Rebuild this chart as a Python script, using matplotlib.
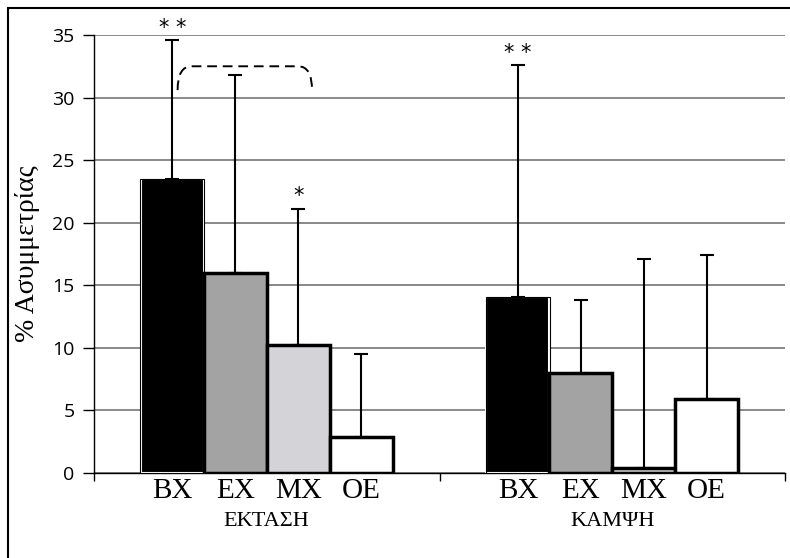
import numpy as np
import matplotlib.pyplot as plt
from matplotlib.patches import Rectangle, PathPatch
from matplotlib.path import Path

# Δεδομένα
omades = ['ΕΚΤΑΣΗ', 'ΚΑΜΨΗ']
katigories = ['BX', 'EX', 'MX', 'OE']
times = {
    'BX': [23.5, 14.1],
    'EX': [16.0, 8.0],
    'MX': [10.2, 0.4],
    'OE': [2.9, 5.9],
}
sfalmata = {
    'BX': [11.1, 18.5],
    'EX': [15.8, 5.8],
    'MX': [10.9, 16.7],
    'OE': [6.6, 11.5],
}
asteriskoi = [('* *', 'BX', 0), ('*', 'MX', 0), ('* *', 'BX', 1)]

xromata = {'BX': 'black', 'EX': '#a3a3a3', 'MX': '#d4d4d8', 'OE': 'white'}

fig = plt.figure(figsize=(7.9, 5.58), dpi=100)
ax = fig.add_axes([94 / 790, 1 - 473 / 558, (785 - 94) / 790, (473 - 35) / 558])

x = np.arange(len(omades))
platos = 0.182
metatopisi = (np.arange(len(katigories)) - 1.5) * platos

for i, k in enumerate(katigories):
    xi = x + metatopisi[i]
    if k == 'BX':
        ax.bar(xi, times[k], platos, color='black', edgecolor='white', linewidth=1.5, zorder=3)
        ax.bar(xi, times[k], platos * 1.02, fill=False, edgecolor='black', linewidth=0.8, zorder=3)
    else:
        ax.bar(xi, times[k], platos, color=xromata[k], edgecolor='black', linewidth=2.5, zorder=3)
    ax.errorbar(xi, times[k], yerr=[np.zeros(len(omades)), sfalmata[k]], fmt='none',
                ecolor='black', elinewidth=1.5, capsize=5, capthick=1.5, zorder=4)
    for j, xv in enumerate(xi):
        ax.text(xv, -0.4, k, ha='center', va='top', fontsize=21,
                family='Liberation Serif')

for j, o in enumerate(omades):
    ax.text(x[j], -3.15, o, ha='center', va='top', fontsize=16, family='Liberation Serif')

# αστερίσκοι σημαντικότητας
for s, k, j in asteriskoi:
    i = katigories.index(k)
    ax.text(x[j] + metatopisi[i], times[k][j] + sfalmata[k][j] + 0.2, s,
            ha='center', va='bottom', fontsize=15, family='DejaVu Sans')

# διακεκομμένη αγκύλη
x0 = x[0] + metatopisi[0] + 0.015
x1 = x[0] + metatopisi[2] + 0.04
y0, y1 = 30.6, 32.5
verts = [(x0, y0), (x0, y1), (x0 + 0.04, y1), (x1 - 0.04, y1), (x1, y1), (x1, y0)]
codes = [Path.MOVETO, Path.CURVE3, Path.CURVE3, Path.LINETO, Path.CURVE3, Path.CURVE3]
ax.add_patch(PathPatch(Path(verts, codes), fill=False, linestyle=(0, (5, 3)),
                       linewidth=1.4, edgecolor='black', zorder=5))

ax.set_xlim(-0.5, 1.5)
ax.set_ylim(0, 35)
ax.set_yticks(np.arange(0, 36, 5))
ax.set_xticks([-0.5, 0.5, 1.5])
ax.set_xticklabels([])
ax.tick_params(axis='x', direction='out', length=6, width=1)
ax.tick_params(axis='y', direction='out', length=8, width=1, labelsize=14, pad=6)
for lbl in ax.get_yticklabels():
    lbl.set_family('Open Sans')
ax.yaxis.grid(True, color='#808080', linewidth=1.3, zorder=0)
ax.set_axisbelow(True)
for s in ['top', 'right']:
    ax.spines[s].set_visible(False)
ax.spines['left'].set_linewidth(1)
ax.spines['bottom'].set_linewidth(1)
ax.set_ylabel('% Ασυμμετρίας', fontsize=20, family='Liberation Serif', labelpad=9)

fig.patches.append(Rectangle((8 / 790, -0.1), 1.2, 1.1 - 8 / 558, transform=fig.transFigure,
                             fill=False, edgecolor='black', linewidth=1.5))

fig.savefig('out.png', dpi=100)
